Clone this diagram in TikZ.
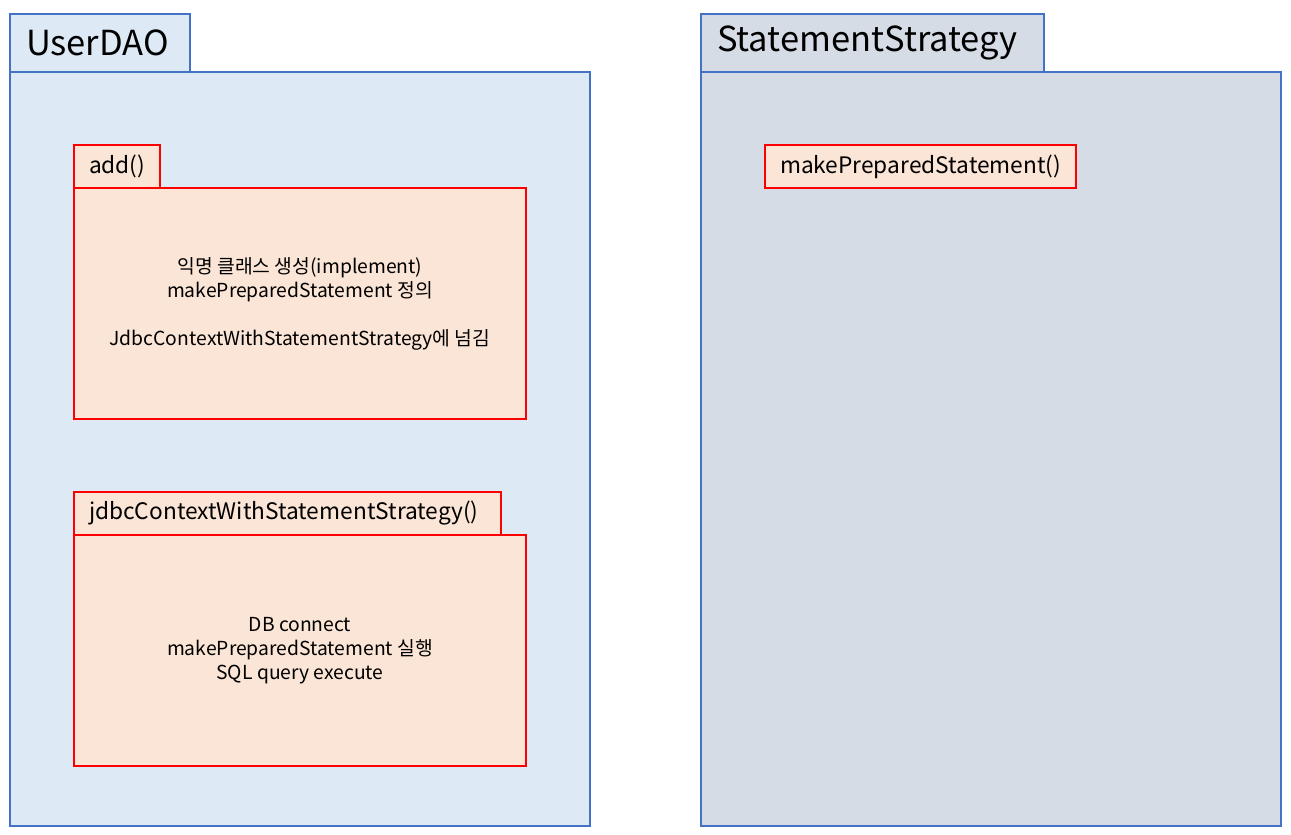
\documentclass[tikz,border=0pt]{standalone}
\usepackage{fontspec}
\setmainfont{Noto Sans CJK KR}
\usepackage{tikz}
\usetikzlibrary{positioning}
\usepackage{xcolor}
\definecolor{pkgblue}{HTML}{4472C4}
\definecolor{daofill}{HTML}{DDE9F5}
\definecolor{stratfill}{HTML}{D5DCE6}
\definecolor{methfill}{HTML}{FBE5D6}
\definecolor{methred}{HTML}{FF0000}
\tikzset{
  pkgtab/.style={draw=pkgblue, line width=2pt, anchor=north west, inner xsep=16pt, inner ysep=0pt,
    minimum height=58pt, align=left, font=\fontsize{34.5}{38}\selectfont},
  pkgbody/.style={draw=pkgblue, line width=2pt, anchor=north west, inner sep=0pt,
    minimum width=580pt, minimum height=754pt},
  methtab/.style={draw=methred, fill=methfill, line width=2pt, anchor=north west, inner xsep=15pt, inner ysep=0pt,
    minimum height=43pt, align=left, font=\fontsize{22.7}{26}\selectfont},
  methbody/.style={draw=methred, fill=methfill, line width=2pt, anchor=north west, inner sep=0pt,
    minimum width=452pt, minimum height=231pt, align=center, font=\fontsize{19.3}{24}\selectfont},
}

\begin{document}
\begin{tikzpicture}[x=1pt,y=1pt]
     \useasboundingbox (0,0) rectangle (1291,-835);
     % UserDAO package
     \node [pkgtab, fill=daofill, text width=148pt] (daotab) at (9,-13) {UserDAO};
     \node [pkgbody, fill=daofill] (daobody) at (9,-71) {};
     % StatementStrategy package
     \node [pkgtab, fill=stratfill, text width=311pt] (strattab) at (700,-13) {StatementStrategy};
     \node [pkgbody, fill=stratfill] (stratbody) at (700,-71) {};
     % add()
     \node [methtab, text width=56pt] (addtab) at (73,-144) {add()};
     \node [methbody] (addbody) at (73,-187)
       {익명 클래스 생성(implement)\\makePreparedStatement 정의\\[24pt]JdbcContextWithStatementStrategy에 넘김};
     % jdbcContextWithStatementStrategy()
     \node [methtab, text width=397pt] (jdbctab) at (73,-491) {jdbcContextWithStatementStrategy()};
     \node [methbody] (jdbcbody) at (73,-534)
       {DB connect\\makePreparedStatement 실행\\SQL query execute};
     % makePreparedStatement()
     \node [methtab, text width=281pt] (maketab) at (764,-144) {makePreparedStatement()};
 \end{tikzpicture}
\end{document}
